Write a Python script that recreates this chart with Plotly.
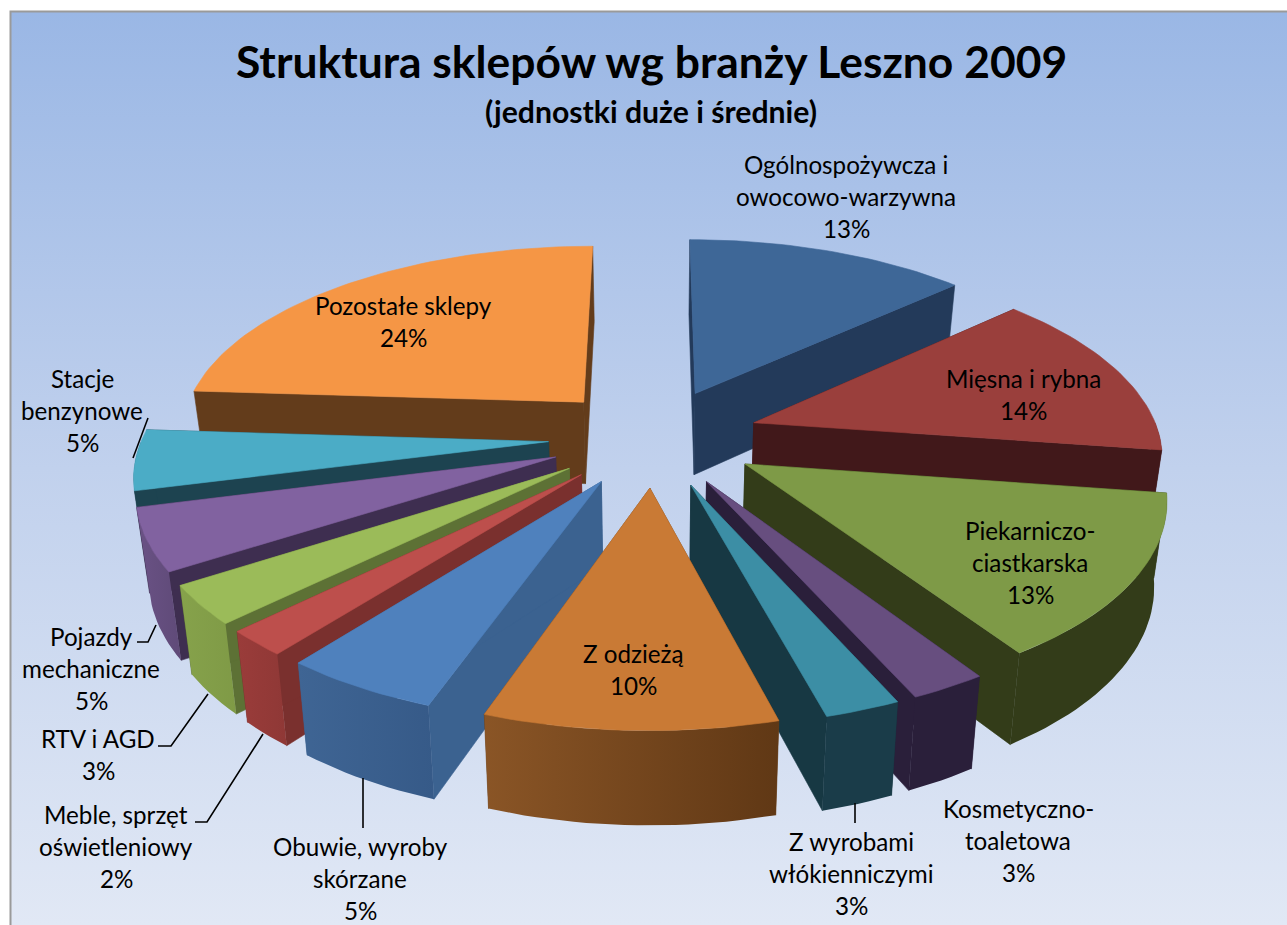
import math
import plotly.graph_objects as go

# ---- data ----
categories = ["Ogólnospożywcza i owocowo-warzywna", "Mięsna i rybna", "Piekarniczo-ciastkarska",
              "Kosmetyczno-toaletowa", "Z wyrobami włókienniczymi", "Z odzieżą",
              "Obuwie, wyroby skórzane", "Meble, sprzęt oświetleniowy", "RTV i AGD",
              "Pojazdy mechaniczne", "Stacje benzynowe", "Pozostałe sklepy"]
# shares; each rounds to the printed percentage
values = [13.2, 14.1, 13.45, 2.55, 2.5, 9.6, 5.2, 2.1, 3.2, 5.1, 5.0, 24.0]
top_colors = ["#3e6797", "#9a3f3c", "#7e9a47", "#674e7f", "#3c8ea5", "#c97a35",
              "#4f81bd", "#bd4f4c", "#9bbb59", "#8162a0", "#4bacc6", "#f59645"]
radial_colors = ["#233a5a", "#41181a", "#333c19", "#2a1f3a", "#173843", "#6b4019",
                 "#3b6290", "#7a302e", "#5d7135", "#3e2e50", "#1d4350", "#633c1b"]
outer_left = ["#233a5a", "#41181a", "#333c19", "#2a1f3a", "#1a3c49", "#8a5526",
              "#3f6594", "#9a3c3a", "#86a24b", "#6a5285", "#1d4350", "#633c1b"]
outer_right = ["#233a5a", "#41181a", "#333c19", "#2a1f3a", "#1a3c49", "#603815",
               "#365a88", "#8f3836", "#7f9a46", "#5f4a78", "#1d4350", "#633c1b"]

title_main = "Struktura sklepów wg branży Leszno 2009"
title_sub = "(jednostki duże i średnie)"
label_lines = [
    (["Ogólnospożywcza i", "owocowo-warzywna", "13%"], 846, 164),
    (["Mięsna i rybna", "14%"], 1023, 378),
    (["Piekarniczo-", "ciastkarska", "13%"], 1030, 530),
    (["Kosmetyczno-", "toaletowa", "3%"], 1018, 808),
    (["Z wyrobami", "włókienniczymi", "3%"], 851, 841),
    (["Z odzieżą", "10%"], 633, 653),
    (["Obuwie, wyroby", "skórzane", "5%"], 360, 846),
    (["Meble, sprzęt", "oświetleniowy", "2%"], 116, 814),
    (["RTV i AGD", "3%"], 98, 738),
    (["Pojazdy", "mechaniczne", "5%"], 91, 636),
    (["Stacje", "benzynowe", "5%"], 82, 378),
    (["Pozostałe sklepy", "24%"], 403, 305),
]
leaders = [
    [(148, 418), (133, 458)],
    [(137, 642), (148, 642), (156, 625)],
    [(158, 746), (171, 746), (208, 694)],
    [(195, 822), (207, 822), (263, 734)],
    [(363, 778), (363, 828)],
    [(855, 803), (855, 823)],
]

# ---- camera of the tilted pie ----
CX, CY = 654, 437
RAD, TILT, PERSP = 406, 189, 0.15
EXPLODE, WALL, SHRINK = 0.26, 85, 0.025
ROT = 0.0


def project(x, y, low):
    s = 1 / (1 + PERSP * y)
    k = 1 - SHRINK if low else 1
    return (CX + RAD * x * s * k, CY + (-TILT * y * s + (WALL * s if low else 0)) * k)


def point(theta, r, off, low=False):
    t = math.radians(theta)
    return project(off[0] + r * math.sin(t), off[1] + r * math.cos(t), low)


def arc(a, b, off, low=False):
    n = max(2, int(abs(b - a) / 1.5))
    return [point(a + (b - a) * i / n, 1, off, low) for i in range(n + 1)]


fig = go.Figure()


def poly(pts, color=None, grad=None):
    xs = [p[0] for p in pts] + [pts[0][0]]
    ys = [p[1] for p in pts] + [pts[0][1]]
    kw = dict(x=xs, y=ys, mode="lines", fill="toself", hoverinfo="skip", showlegend=False)
    if grad:
        fig.add_trace(go.Scatter(line=dict(width=0), fillcolor="rgba(0,0,0,0)", fillgradient=grad, **kw))
    else:
        fig.add_trace(go.Scatter(line=dict(color=color, width=0.6), fillcolor=color, **kw))


# background panel
bg = [(11, 12), (1287, 12), (1287, 925), (11, 925)]
poly(bg, grad=dict(type="vertical", start=12, stop=925,
                   colorscale=[[0, "#9ab7e5"], [0.5, "#c1d1ed"], [1, "#e1e8f5"]]))

# slices, back to front
angles = []
acc = ROT
total = sum(values)
for v in values:
    angles.append((acc, acc + v / total * 360))
    acc += v / total * 360
order = sorted(range(len(values)), key=lambda i: -math.cos(math.radians(sum(angles[i]) / 2)))
for i in order:
    a, b = angles[i]
    m = math.radians((a + b) / 2)
    off = (EXPLODE * math.sin(m), EXPLODE * math.cos(m))
    ap_t = project(off[0], off[1], False)
    ap_b = project(off[0], off[1], True)
    for e in (a, b):
        poly([ap_t, point(e, 1, off), point(e, 1, off, True), ap_b], color=radial_colors[i])
    # curved rim: only the part turned towards the viewer
    lo, hi = max(a, 90), min(b, 270)
    if hi > lo:
        grad = dict(type="horizontal", colorscale=[[0, outer_left[i]], [1, outer_right[i]]])
        poly(arc(lo, hi, off) + arc(hi, lo, off, True), grad=grad)
    poly([ap_t] + arc(a, b, off), color=top_colors[i])

# frame
fig.add_trace(go.Scatter(x=[10.5, 10.5, 1287], y=[925, 11.5, 11.5], mode="lines",
                         line=dict(color="#9a9a9a", width=2), hoverinfo="skip", showlegend=False))
# leader lines
for ln in leaders:
    fig.add_trace(go.Scatter(x=[p[0] for p in ln], y=[p[1] for p in ln], mode="lines",
                             line=dict(color="#000000", width=1.6), hoverinfo="skip", showlegend=False))

ann = [dict(x=651, y=60, text=title_main, font=dict(size=44.4, family="Lato", color="#000", weight="bold")),
       dict(x=651, y=111, text=title_sub, font=dict(size=30.2, family="Lato", color="#000", weight="bold"))]
for lines, x, y in label_lines:
    for k, t in enumerate(lines):
        ann.append(dict(x=x, y=y + k * 32, text=t, font=dict(size=24.2, family="Lato", color="#000")))
for a_ in ann:
    a_.update(xref="x", yref="y", showarrow=False, xanchor="center", yanchor="middle")

fig.update_layout(width=1287, height=925, margin=dict(l=0, r=0, t=0, b=0),
                  paper_bgcolor="#ffffff", plot_bgcolor="#ffffff", annotations=ann,
                  xaxis=dict(range=[0, 1287], visible=False, fixedrange=True),
                  yaxis=dict(range=[925, 0], visible=False, fixedrange=True))
fig.write_html("out.html", config=dict(displayModeBar=False),
               post_script="document.body.style.margin='0';document.documentElement.style.overflow='hidden';")
